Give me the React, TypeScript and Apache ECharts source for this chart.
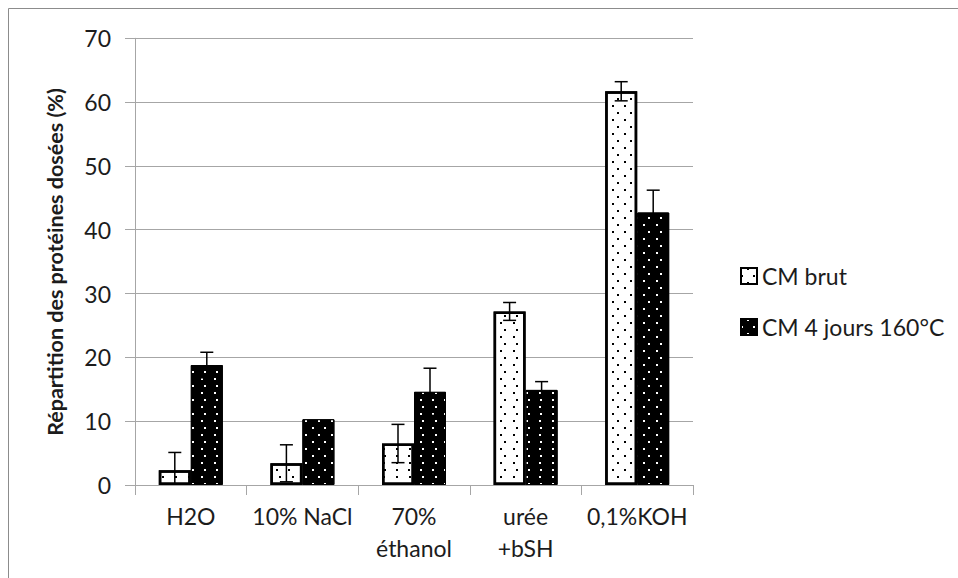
import React, { useEffect, useRef } from 'react';
import * as echarts from 'echarts';

const categories = ['H2O', '10% NaCl', '70%\néthanol', 'urée\n+bSH', '0,1%KOH'];
const seriesNames = ['CM brut', 'CM 4 jours 160°C'];
const brut = [2.3, 3.4, 6.5, 27.2, 61.7];
const brutErr = [2.8, 2.9, 3.0, 1.4, 1.5];
const heated = [18.8, 10.3, 14.6, 14.9, 42.7];
const heatedErr = [2.0, 0, 3.7, 1.3, 3.5];
const yTitle = 'Répartition des protéines dosées (%)';

const BAR_W = 32;
const FONT = 'Lato, "Open Sans", sans-serif';
const TEXT = '#1c1c1c';
const GRID = '#a6a6a6';

export default function App() {
  const ref = useRef<HTMLDivElement>(null);
  useEffect(() => {
    document.body.style.margin = '0';
    const chart = echarts.init(ref.current as HTMLDivElement, null, { renderer: 'svg' });
    const errData: number[][] = [];
    categories.forEach((_, i) => {
      errData.push([i, brut[i], brutErr[i], -1]);
      errData.push([i, heated[i], heatedErr[i], 1]);
    });
    const lineStyle = { stroke: '#000', lineWidth: 1.5 };
    chart.setOption({
      animation: false,
      textStyle: { fontFamily: FONT },
      grid: { left: 135, right: 265, top: 38.3, bottom: 93, containLabel: false },
      legend: {
        orient: 'vertical',
        left: 735,
        top: 257,
        itemWidth: 16,
        itemHeight: 16,
        itemGap: 23,
        icon: 'rect',
        data: seriesNames,
        textStyle: { fontFamily: FONT, fontSize: 23, color: TEXT, lineHeight: 28 },
      },
      xAxis: {
        type: 'category',
        data: categories,
        axisLine: { lineStyle: { color: GRID, width: 1 } },
        axisTick: { show: true, length: 10, lineStyle: { color: GRID } },
        axisLabel: { interval: 0, fontFamily: FONT, fontSize: 23, lineHeight: 32, color: TEXT, margin: 15 },
      },
      yAxis: {
        type: 'value',
        min: 0,
        max: 70,
        interval: 10,
        axisLine: { show: true, lineStyle: { color: GRID, width: 1 } },
        axisTick: { show: true, length: 10, lineStyle: { color: GRID } },
        splitLine: { show: true, lineStyle: { color: GRID, width: 1 } },
        axisLabel: { fontFamily: FONT, fontSize: 23, color: TEXT, margin: 24 },
      },
      graphic: [
        {
          type: 'rect',
          shape: { x: 8.5, y: 8.5, width: 1200, height: 1200 },
          style: { fill: 'none', stroke: '#8c8c8c', lineWidth: 1 },
          silent: true,
        },
        {
          type: 'text',
          x: 55,
          y: 262,
          rotation: Math.PI / 2,
          style: {
            text: yTitle,
            fontFamily: FONT,
            fontWeight: 'bold',
            fontSize: 21.5,
            fill: TEXT,
            align: 'center',
            verticalAlign: 'middle',
          },
        },
      ],
      series: [
        {
          name: seriesNames[0],
          type: 'bar',
          data: brut,
          barWidth: BAR_W,
          barGap: '0%',
          itemStyle: {
            color: '#ffffff',
            borderColor: '#000000',
            borderWidth: 2.5,
            decal: {
              symbol: 'rect',
              symbolSize: 1,
              color: '#000000',
              dashArrayX: [[1.3, 9.7], [0, 5.5, 1.3, 4.2]],
              dashArrayY: [1.3, 4.2],
              rotation: 0,
            },
          },
        },
        {
          name: seriesNames[1],
          type: 'bar',
          data: heated,
          barWidth: BAR_W,
          barGap: '0%',
          itemStyle: {
            color: '#000000',
            borderColor: '#000000',
            borderWidth: 1,
            decal: {
              symbol: 'rect',
              symbolSize: 1,
              color: '#ffffff',
              dashArrayX: [[1.3, 9.7], [0, 5.5, 1.3, 4.2]],
              dashArrayY: [1.3, 4.2],
              rotation: 0,
            },
          },
        },
        {
          type: 'custom',
          name: 'err',
          data: errData,
          z: 10,
          silent: true,
          renderItem: (params: any, api: any) => {
            const i = api.value(0);
            const v = api.value(1);
            const e = api.value(2);
            const side = api.value(3);
            if (!e) return { type: 'group', children: [] };
            const c = api.coord([i, v]);
            const x = c[0] + (side * BAR_W) / 2;
            const loVal = Math.max(0, v - e);
            const yHi = api.coord([i, v + e])[1];
            const yLo = api.coord([i, loVal])[1];
            const cap = 6.5;
            const children: any[] = [
              { type: 'line', shape: { x1: x, y1: yHi, x2: x, y2: yLo }, style: lineStyle },
              { type: 'line', shape: { x1: x - cap, y1: yHi, x2: x + cap, y2: yHi }, style: lineStyle },
            ];
            if (v - e >= 0) {
              children.push({ type: 'line', shape: { x1: x - cap, y1: yLo, x2: x + cap, y2: yLo }, style: lineStyle });
            }
            return { type: 'group', children };
          },
        },
      ],
    });
    return () => chart.dispose();
  }, []);
  return <div ref={ref} style={{ width: 958, height: 578 }} />;
}
